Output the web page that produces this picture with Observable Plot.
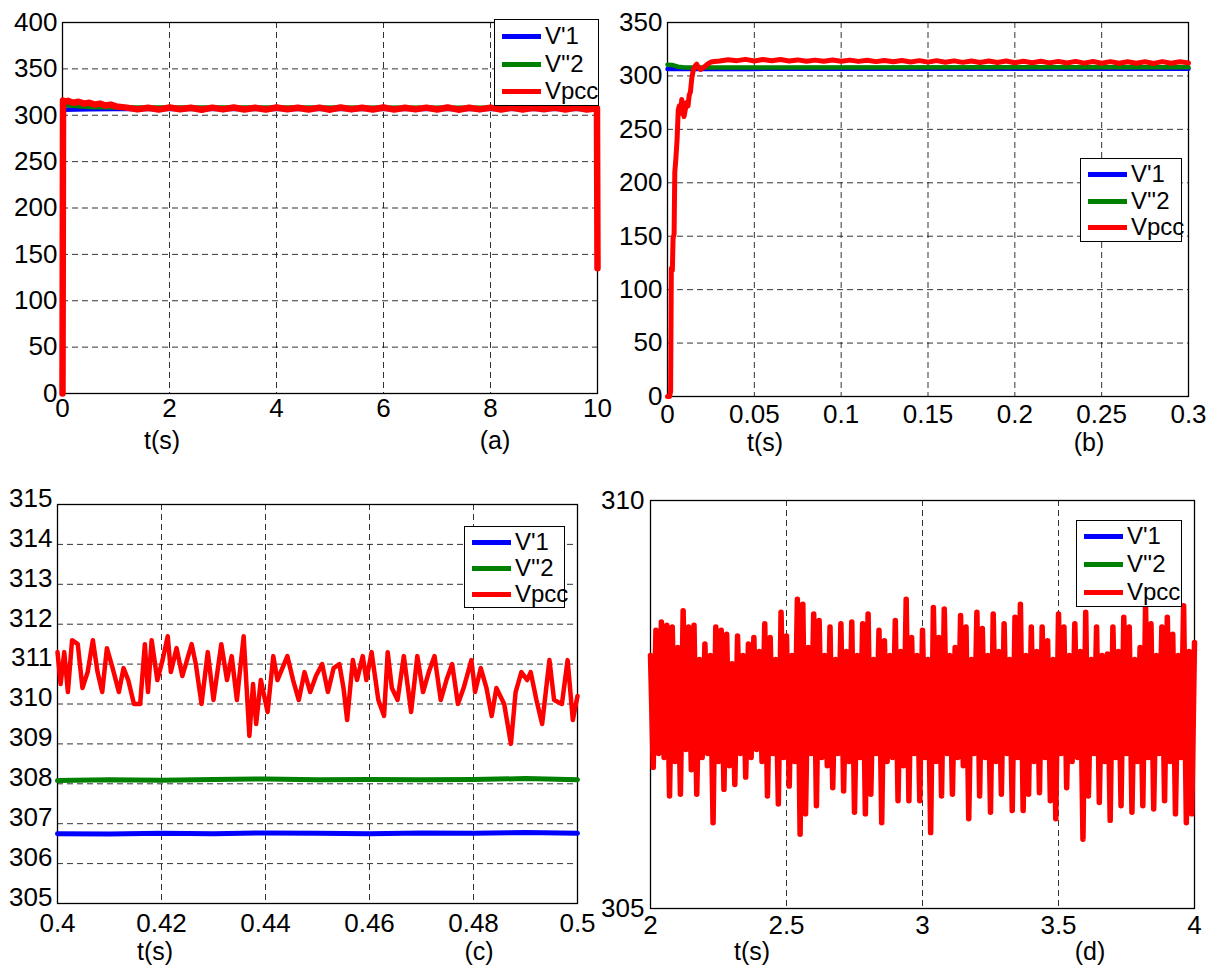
<!DOCTYPE html>
<html><head><meta charset="utf-8">
<script src="https://cdn.jsdelivr.net/npm/d3@7"></script>
<script src="https://cdn.jsdelivr.net/npm/@observablehq/plot@0.6"></script>
<style>
body{margin:0;background:#fff;font-family:"Liberation Sans",Arial,sans-serif;}
#root{position:relative;width:1216px;height:966px;overflow:hidden;background:#fff;}
.panel{position:absolute;}
.legend{position:absolute;background:#fff;border:1.5px solid #000;box-sizing:border-box;font-size:24px;color:#000;}
.legend .row{position:absolute;left:7px;height:26px;display:flex;align-items:center;transform:translateY(-50%);}
.legend .sw{display:inline-block;width:39px;height:5px;margin-right:4px;}
.lbl{position:absolute;font-size:25px;line-height:25px;transform:translate(-50%,-50%);color:#000;white-space:nowrap;}
</style></head>
<body><div id="root"></div>
<script>
// ---------- series names / colours ----------
const seriesNames = ["V'1", "V''2", "Vpcc"];
const seriesColors = ["#0000ff", "#008000", "#ff0000"];

// ---------- panel (a): 0..10 s ----------
const xTicksA = [0, 2, 4, 6, 8, 10];
const yTicksA = [0, 50, 100, 150, 200, 250, 300, 350, 400];
const v1A = [[0, 306.0], [0.5, 306.4], [1.0, 306.7], [10, 306.75]];
const v2A = [[0, 311.0], [0.2, 310.2], [0.5, 309.0], [1.0, 308.3], [10, 308.1]];
const vpccA = [[0, 0], [0.01, 316], [0.05, 314.5], [0.1, 315.5], [0.2, 313.5], [0.3, 314.5], [0.4, 312.5],
  [0.5, 313.5], [0.6, 311.5], [0.7, 312.5], [0.8, 310.5], [0.9, 311.5], [1.0, 309.5],
  [1.2, 308.2], [1.4, 306.3], [1.6, 308.0], [1.8, 306.1], [2.0, 308.3], [2.2, 306.4], [2.4, 308.1],
  [2.6, 306.0], [2.8, 308.2], [3.0, 306.3], [3.2, 308.4], [3.4, 306.2], [3.6, 308.0], [3.8, 306.1],
  [4.0, 308.3], [4.2, 306.4], [4.4, 308.1], [4.6, 306.2], [4.8, 308.2], [5.0, 306.0], [5.2, 308.4],
  [5.4, 306.3], [5.6, 308.1], [5.8, 306.2], [6.0, 308.3], [6.2, 306.1], [6.4, 308.0], [6.6, 306.3],
  [6.8, 308.2], [7.0, 306.2], [7.2, 308.4], [7.4, 306.0], [7.6, 308.1], [7.8, 306.3], [8.0, 308.2],
  [8.2, 306.1], [8.4, 308.3], [8.6, 306.2], [8.8, 308.0], [9.0, 306.4], [9.2, 308.2], [9.4, 306.1],
  [9.6, 308.3], [9.8, 306.2], [9.99, 307.5], [10, 135]];

// ---------- panel (b): 0..0.3 s ----------
const xTicksB = [0, 0.05, 0.1, 0.15, 0.2, 0.25, 0.3];
const yTicksB = [0, 50, 100, 150, 200, 250, 300, 350];
const v1B = [[0, 306.5], [0.01, 306.4], [0.05, 306.6], [0.3, 306.75]];
const v2B = [[0, 310.5], [0.003, 310.2], [0.006, 308.6], [0.01, 307.8], [0.02, 307.9], [0.05, 308.0], [0.3, 308.2]];
const vpccB = [[0, 0], [0.0012, 0], [0.0018, 5], [0.0022, 120], [0.0028, 118], [0.0032, 148], [0.0038, 152],
  [0.0042, 210], [0.0048, 222], [0.0055, 240], [0.0062, 268], [0.0068, 272], [0.0075, 265], [0.0082, 278],
  [0.0088, 270], [0.0095, 262], [0.0102, 268], [0.0110, 275], [0.0118, 272], [0.0125, 282], [0.0132, 285],
  [0.0140, 298], [0.0148, 305], [0.0158, 309], [0.0168, 311], [0.0178, 308], [0.0190, 306], [0.0200, 307],
  [0.0215, 309], [0.0230, 311], [0.0250, 313], [0.0270, 313.5],
  [0.030, 314.0], [0.035, 315.2], [0.040, 314.3], [0.045, 315.5], [0.050, 314.0], [0.055, 315.3],
  [0.060, 314.2], [0.065, 315.4], [0.070, 314.0], [0.075, 315.0], [0.080, 313.8], [0.085, 314.8],
  [0.090, 313.8], [0.095, 314.9], [0.100, 313.7], [0.105, 314.8], [0.110, 313.6], [0.115, 314.7],
  [0.120, 313.4], [0.125, 314.5], [0.130, 313.2], [0.135, 314.4], [0.140, 313.1], [0.145, 314.3],
  [0.150, 312.9], [0.155, 314.3], [0.160, 312.8], [0.165, 314.1], [0.170, 312.7], [0.175, 314.0],
  [0.180, 312.6], [0.185, 313.9], [0.190, 312.5], [0.195, 313.9], [0.200, 312.4], [0.205, 313.8],
  [0.210, 312.3], [0.215, 313.7], [0.220, 312.2], [0.225, 313.6], [0.230, 312.1], [0.235, 313.6],
  [0.240, 312.0], [0.245, 313.5], [0.250, 311.9], [0.255, 313.4], [0.260, 311.9], [0.265, 313.3],
  [0.270, 311.8], [0.275, 313.3], [0.280, 311.7], [0.285, 313.4], [0.290, 311.8], [0.295, 313.2], [0.300, 312.2]];

// ---------- panel (c): 0.4..0.5 s ----------
const xTicksC = [0.4, 0.42, 0.44, 0.46, 0.48, 0.5];
const yTicksC = [305, 306, 307, 308, 309, 310, 311, 312, 313, 314, 315];
const v1C = [[0.40, 306.75], [0.41, 306.74], [0.42, 306.76], [0.43, 306.75], [0.44, 306.77], [0.45, 306.76],
  [0.46, 306.75], [0.47, 306.77], [0.48, 306.76], [0.49, 306.78], [0.50, 306.76]];
const v2C = [[0.40, 308.08], [0.41, 308.10], [0.42, 308.09], [0.43, 308.11], [0.44, 308.12], [0.45, 308.10],
  [0.46, 308.11], [0.47, 308.10], [0.48, 308.11], [0.49, 308.13], [0.50, 308.10]];
const vpccC = [[0.4000, 311.3], [0.4006, 310.5], [0.4013, 311.3], [0.4020, 310.3], [0.4028, 311.6], [0.4039, 311.5],
  [0.4048, 310.4], [0.4058, 310.8], [0.4068, 311.6], [0.4077, 310.8], [0.4086, 310.3], [0.4095, 311.4],
  [0.4106, 310.9], [0.4118, 310.3], [0.4127, 310.9], [0.4136, 310.6], [0.4147, 310.0], [0.4159, 310.0],
  [0.4168, 311.5], [0.4174, 310.3], [0.4181, 311.6], [0.4192, 310.6], [0.4202, 311.1], [0.4212, 311.7],
  [0.4218, 310.8], [0.4229, 311.4], [0.4240, 310.7], [0.4258, 311.5], [0.4266, 311.0], [0.4277, 310.0],
  [0.4289, 311.3], [0.4300, 310.1], [0.4315, 311.5], [0.4326, 310.6], [0.4335, 311.2], [0.4345, 310.1],
  [0.4358, 311.7], [0.4369, 309.2], [0.4376, 310.5], [0.4382, 309.5], [0.4391, 310.6], [0.4404, 309.8],
  [0.4415, 311.2], [0.4423, 310.6], [0.4442, 311.2], [0.4453, 310.6], [0.4464, 310.1], [0.4475, 310.8],
  [0.4486, 310.3], [0.4497, 310.7], [0.4509, 311.0], [0.4520, 310.3], [0.4531, 310.9], [0.4542, 311.0],
  [0.4550, 310.4], [0.4557, 309.6], [0.4568, 311.1], [0.4576, 310.6], [0.4587, 311.2], [0.4594, 310.6],
  [0.4604, 311.3], [0.4617, 310.1], [0.4628, 309.7], [0.4635, 311.3], [0.4643, 310.4], [0.4654, 310.1],
  [0.4666, 311.2], [0.4680, 309.8], [0.4692, 311.2], [0.4703, 310.3], [0.4714, 310.8], [0.4725, 311.2],
  [0.4737, 310.1], [0.4748, 310.6], [0.4759, 311.0], [0.4770, 310.0], [0.4781, 310.4], [0.4796, 311.1],
  [0.4803, 310.3], [0.4814, 310.9], [0.4825, 310.4], [0.4835, 309.7], [0.4844, 310.4], [0.4859, 310.0],
  [0.4872, 309.0], [0.4881, 310.3], [0.4892, 310.8], [0.4903, 310.6], [0.4910, 310.8], [0.4921, 310.1],
  [0.4932, 309.5], [0.4946, 311.1], [0.4955, 310.1], [0.4970, 310.0], [0.4981, 311.1], [0.4991, 309.6],
  [0.5000, 310.2]];

// ---------- panel (d): 2..4 s, sampled every 0.01 s ----------
const xTicksD = [2, 2.5, 3, 3.5, 4];
const yTicksD = [305, 310];
const tStartD = 2, tStepD = 0.01;
const vpccD = [
  308.10, 306.73, 308.41, 306.90, 308.51, 306.85, 308.47, 306.38, 308.45, 306.80,
  308.20, 306.40, 308.65, 306.95, 308.45, 306.70, 308.47, 306.40, 308.05, 306.85,
  308.24, 306.90, 308.10, 306.05, 308.45, 306.80, 308.41, 306.46, 308.36, 306.75,
  308.00, 306.52, 308.34, 306.90, 308.10, 306.61, 308.24, 306.85, 308.32, 306.95,
  308.15, 306.80, 308.49, 306.38, 308.32, 306.90, 308.05, 306.28, 308.63, 306.85,
  308.34, 306.50, 308.10, 306.80, 308.79, 305.91, 308.73, 306.16, 308.20, 306.90,
  308.61, 306.26, 308.53, 306.85, 308.10, 306.75, 308.45, 306.48, 308.05, 306.90,
  308.49, 306.44, 308.15, 306.80, 308.51, 306.18, 308.10, 306.85, 308.49, 306.16,
  308.61, 306.40, 308.05, 306.90, 308.41, 306.05, 308.28, 306.80, 308.10, 306.85,
  308.53, 306.32, 308.15, 306.75, 308.79, 306.32, 308.32, 306.90, 308.10, 306.32,
  308.41, 306.85, 308.05, 305.93, 308.69, 306.80, 308.32, 306.38, 308.67, 306.90,
  308.10, 306.40, 308.20, 306.85, 308.59, 306.75, 308.45, 306.10, 308.05, 306.90,
  308.63, 306.38, 308.43, 306.85, 308.10, 306.18, 308.61, 306.80, 308.15, 306.40,
  308.49, 306.90, 308.05, 306.20, 308.57, 306.85, 308.73, 306.20, 308.10, 306.40,
  308.45, 306.80, 308.15, 306.42, 308.45, 306.85, 308.28, 306.32, 308.05, 306.10,
  308.61, 306.90, 308.45, 306.48, 308.10, 306.80, 308.49, 306.85, 308.15, 305.85,
  308.63, 306.38, 308.05, 306.90, 308.45, 306.30, 308.10, 306.80, 308.12, 306.08,
  308.45, 306.85, 308.15, 306.26, 308.57, 306.90, 308.45, 306.18, 308.05, 306.80,
  308.20, 306.26, 308.69, 306.85, 308.49, 306.22, 308.10, 306.90, 308.45, 306.32,
  308.57, 306.80, 308.36, 306.16, 308.10, 306.85, 308.71, 306.05, 308.15, 306.16,
  308.26];

// ---------- helpers ----------
const root = document.getElementById("root");
const fmt = d => String(+(+d).toFixed(4));
const toRows = pairs => pairs.map(([t, v]) => ({t, v}));
const FONT = "'Liberation Sans', Arial, Helvetica, sans-serif";

function makePanel(cfg) {
  const marks = [];
  const grid = {stroke: "#000", strokeOpacity: 0.8, strokeWidth: 1, strokeDasharray: "6,4"};
  if (cfg.hGrid) marks.push(Plot.gridY(cfg.yTicks, grid));
  marks.push(Plot.gridX(cfg.gridX || cfg.xTicks, grid));
  marks.push(Plot.frame({stroke: "#000", strokeWidth: 1.3}));
  cfg.series.forEach(s => {
    marks.push(Plot.line(s.rows, {x: "t", y: "v", stroke: s.color, strokeWidth: s.w, strokeLinejoin: "round"}));
  });
  marks.push(Plot.axisX(cfg.xTicks, {tickSize: 0, tickPadding: cfg.xPad, tickFormat: fmt, fontSize: 26, label: null}));
  marks.push(Plot.axisY(cfg.yTicks, {tickSize: 0, tickPadding: cfg.yPad, tickFormat: fmt, fontSize: 26, label: null, dy: cfg.yDy || 0}));
  const svg = Plot.plot({
    width: cfg.w, height: cfg.h,
    marginLeft: cfg.mL, marginRight: cfg.mR, marginTop: cfg.mT, marginBottom: cfg.mB,
    x: {domain: cfg.xDomain, label: null},
    y: {domain: cfg.yDomain, label: null},
    style: {fontFamily: FONT, fontSize: "26px", color: "#000", background: "transparent", overflow: "visible"},
    marks
  });
  const wrap = document.createElement("div");
  wrap.className = "panel";
  wrap.style.left = cfg.left + "px";
  wrap.style.top = cfg.top + "px";
  wrap.appendChild(svg);
  root.appendChild(wrap);

  // legend
  const lg = document.createElement("div");
  lg.className = "legend";
  Object.assign(lg.style, {left: cfg.legend.x + "px", top: cfg.legend.y + "px", width: cfg.legend.w + "px", height: cfg.legend.h + "px"});
  seriesNames.forEach((name, i) => {
    const row = document.createElement("div");
    row.className = "row";
    row.style.top = cfg.legend.rows[i] + "px";
    const sw = document.createElement("span");
    sw.className = "sw";
    sw.style.background = seriesColors[i];
    const tx = document.createElement("span");
    tx.textContent = name;
    row.appendChild(sw); row.appendChild(tx);
    lg.appendChild(row);
  });
  root.appendChild(lg);

  // axis caption and panel tag
  cfg.captions.forEach(c => {
    const el = document.createElement("div");
    el.className = "lbl";
    el.textContent = c.text;
    el.style.left = c.x + "px";
    el.style.top = c.y + "px";
    root.appendChild(el);
  });
}

// panel (a)
makePanel({
  left: 0, top: 0, w: 608, h: 470, mL: 62, mR: 11, mT: 22, mB: 77,
  xDomain: [0, 10], yDomain: [0, 400], xTicks: xTicksA, yTicks: yTicksA, hGrid: true,
  xPad: 5, yPad: 5,
  series: [
    {rows: toRows(v1A), color: seriesColors[0], w: 4.5},
    {rows: toRows(v2A), color: seriesColors[1], w: 4.5},
    {rows: toRows(vpccA), color: seriesColors[2], w: 6.5}
  ],
  legend: {x: 494, y: 19, w: 105, h: 87, rows: [16, 44, 71]},
  captions: [{text: "t(s)", x: 162, y: 440}, {text: "(a)", x: 495, y: 440}]
});

// panel (b)
makePanel({
  left: 608, top: 0, w: 608, h: 470, mL: 59, mR: 28, mT: 22, mB: 74,
  xDomain: [0, 0.3], yDomain: [0, 350], xTicks: xTicksB, yTicks: yTicksB, hGrid: true,
  xPad: 8, yPad: 5,
  series: [
    {rows: toRows(v1B), color: seriesColors[0], w: 4.5},
    {rows: toRows(v2B), color: seriesColors[1], w: 4.5},
    {rows: toRows(vpccB), color: seriesColors[2], w: 5}
  ],
  legend: {x: 1080, y: 158, w: 102, h: 84, rows: [15, 42, 68]},
  captions: [{text: "t(s)", x: 765, y: 442}, {text: "(b)", x: 1089, y: 442}]
});

// panel (c)
makePanel({
  left: 0, top: 480, w: 608, h: 486, mL: 57, mR: 31, mT: 24, mB: 63,
  xDomain: [0.4, 0.5], yDomain: [305, 315], xTicks: xTicksC, yTicks: yTicksC, hGrid: true,
  xPad: 10, yPad: 5, yDy: -6,
  series: [
    {rows: toRows(v1C), color: seriesColors[0], w: 5},
    {rows: toRows(v2C), color: seriesColors[1], w: 5},
    {rows: toRows(vpccC), color: seriesColors[2], w: 4.5}
  ],
  legend: {x: 464, y: 526, w: 101, h: 82, rows: [15, 41, 67]},
  captions: [{text: "t(s)", x: 155, y: 951}, {text: "(c)", x: 479, y: 951}]
});

// panel (d)
makePanel({
  left: 608, top: 480, w: 608, h: 486, mL: 42, mR: 22, mT: 20, mB: 58,
  xDomain: [2, 4], yDomain: [305, 310], xTicks: xTicksD, yTicks: yTicksD, hGrid: false,
  gridX: [2.5, 3, 3.5],
  xPad: 7, yPad: 6,
  series: [
    {rows: vpccD.map((v, i) => ({t: tStartD + i * tStepD, v})), color: seriesColors[2], w: 5.5}
  ],
  legend: {x: 1076, y: 520, w: 106, h: 87, rows: [15, 43, 71]},
  captions: [{text: "t(s)", x: 752, y: 951}, {text: "(d)", x: 1090, y: 951}]
});
</script></body></html>
